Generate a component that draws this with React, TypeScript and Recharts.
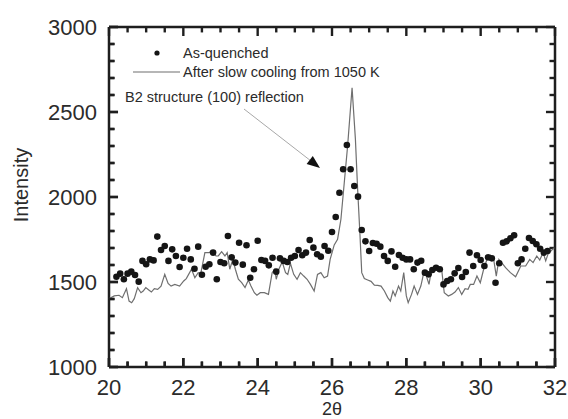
import { ScatterChart, Scatter, XAxis, YAxis, ReferenceLine } from "recharts";

const quenchedX = [
  20.2, 20.3, 20.4, 20.5, 20.6, 20.7, 20.8, 20.9, 21.0, 21.1,
  21.2, 21.3, 21.4, 21.5, 21.6, 21.7, 21.8, 21.9, 22.0, 22.1,
  22.2, 22.3, 22.4, 22.5, 22.6, 22.7, 22.8, 22.9, 23.0, 23.1,
  23.2, 23.3, 23.4, 23.5, 23.6, 23.7, 23.8, 23.9, 24.0, 24.1,
  24.2, 24.3, 24.4, 24.5, 24.6, 24.7, 24.8, 24.9, 25.0, 25.1,
  25.2, 25.3, 25.4, 25.5, 25.6, 25.7, 25.8, 25.9, 26.0, 26.1,
  26.2, 26.3, 26.4, 26.5, 26.6, 26.7, 26.8, 26.9, 27.0, 27.1,
  27.2, 27.3, 27.4, 27.5, 27.6, 27.7, 27.8, 27.9, 28.0, 28.1,
  28.2, 28.3, 28.4, 28.5, 28.6, 28.7, 28.8, 28.9, 29.0, 29.1,
  29.2, 29.3, 29.4, 29.5, 29.6, 29.7, 29.8, 29.9, 30.0, 30.1,
  30.2, 30.3, 30.4, 30.5, 30.6, 30.7, 30.8, 30.9, 31.0, 31.1,
  31.2, 31.3, 31.4, 31.5, 31.6, 31.7, 31.8,
];
const quenchedY = [
  1531, 1549, 1516, 1549, 1561, 1541, 1502, 1624, 1604, 1633,
  1627, 1767, 1688, 1712, 1624, 1692, 1653, 1588, 1643, 1696,
  1633, 1578, 1708, 1543, 1590, 1604, 1673, 1516, 1618, 1610,
  1771, 1645, 1614, 1731, 1602, 1716, 1525, 1575, 1743, 1629,
  1624, 1598, 1643, 1561, 1639, 1624, 1618, 1643, 1653, 1688,
  1657, 1673, 1747, 1702, 1663, 1649, 1712, 1684, 1794, 1882,
  2025, 2163, 2306, 2163, 2065, 2002, 1806, 1739, 1682, 1729,
  1725, 1708, 1653, 1624, 1680, 1590, 1659, 1643, 1633, 1633,
  1575, 1614, 1625, 1555, 1545, 1571, 1584, 1575, 1486, 1506,
  1516, 1551, 1582, 1529, 1559, 1673, 1594, 1657, 1629, 1594,
  1645, 1639, 1496, 1610, 1731, 1739, 1757, 1775, 1610, 1633,
  1696, 1759, 1741, 1722, 1696, 1673, 1682,
];

const cooledX = [
  20.0, 20.14, 20.27, 20.36, 20.47, 20.54, 20.61, 20.68, 20.77, 20.86,
  20.92, 20.99, 21.07, 21.14, 21.22, 21.31, 21.4, 21.5, 21.59, 21.67,
  21.77, 21.9, 22.01, 22.08, 22.22, 22.31, 22.4, 22.47, 22.58, 22.69,
  22.78, 22.88, 22.94, 23.03, 23.12, 23.18, 23.25, 23.33, 23.4, 23.48,
  23.57, 23.66, 23.75, 23.82, 23.91, 23.98, 24.07, 24.18, 24.29, 24.39,
  24.46, 24.5, 24.57, 24.66, 24.75, 24.81, 24.88, 24.97, 25.06, 25.15,
  25.24, 25.33, 25.42, 25.52, 25.61, 25.7, 25.79, 25.88, 25.95, 26.06,
  26.15, 26.24, 26.33, 26.42, 26.54, 26.63, 26.69, 26.75, 26.8, 26.87,
  26.96, 27.05, 27.14, 27.23, 27.32, 27.41, 27.5, 27.57, 27.64, 27.7,
  27.79, 27.85, 27.93, 28.0, 28.05, 28.14, 28.21, 28.3, 28.39, 28.47,
  28.54, 28.61, 28.68, 28.77, 28.86, 28.95, 29.02, 29.13, 29.22, 29.31,
  29.4, 29.49, 29.58, 29.66, 29.72, 29.81, 29.9, 29.99, 30.08, 30.17,
  30.26, 30.35, 30.42, 30.49, 30.58, 30.67, 30.8, 30.94, 31.08, 31.21,
  31.32, 31.41, 31.51, 31.59, 31.68, 31.75, 31.83, 31.89, 31.98,
];
const cooledY = [
  1402, 1418, 1422, 1408, 1461, 1388, 1378, 1402, 1467, 1437,
  1447, 1467, 1453, 1441, 1461, 1457, 1476, 1545, 1492, 1476,
  1486, 1476, 1506, 1520, 1575, 1525, 1555, 1551, 1673, 1673,
  1682, 1653, 1653, 1678, 1653, 1673, 1575, 1633, 1575, 1516,
  1496, 1467, 1512, 1476, 1437, 1422, 1437, 1437, 1427, 1555,
  1575, 1516, 1575, 1618, 1555, 1545, 1610, 1545, 1516, 1555,
  1535, 1516, 1486, 1447, 1545, 1555, 1525, 1535, 1633, 1718,
  1751, 1869, 2084, 2300, 2643, 2339, 2045, 1790, 1555, 1520,
  1512, 1504, 1482, 1480, 1476, 1447, 1408, 1388, 1447, 1418,
  1476, 1447, 1555, 1418, 1378, 1427, 1476, 1427, 1476, 1555,
  1535, 1486, 1575, 1594, 1565, 1575, 1437, 1418, 1427, 1441,
  1467, 1427, 1461, 1457, 1486, 1486, 1535, 1496, 1575, 1633,
  1657, 1633, 1535, 1633, 1610, 1584, 1555, 1531, 1594, 1594,
  1633, 1614, 1653, 1629, 1673, 1624, 1676, 1682, 1702,
];

const xTicks = [
  20, 20.5, 21, 21.5, 22, 22.5, 23, 23.5, 24, 24.5, 25, 25.5, 26,
  26.5, 27, 27.5, 28, 28.5, 29, 29.5, 30, 30.5, 31, 31.5, 32,
];
const xMajor = [20, 22, 24, 26, 28, 30, 32];
const yTicks = [
  1000, 1100, 1200, 1300, 1400, 1500, 1600, 1700, 1800, 1900, 2000,
  2100, 2200, 2300, 2400, 2500, 2600, 2700, 2800, 2900, 3000,
];
const yMajor = [1000, 1500, 2000, 2500, 3000];

const quenched = quenchedX.map((x, i) => ({ x, y: quenchedY[i] }));
const cooled = cooledX.map((x, i) => ({ x, y: cooledY[i] }));

const FONT = '"Liberation Sans", Arial, sans-serif';
const AXIS = "#1e1e1e";
const TEXT = "#2b2b2b";
// default tickSize (6) + tickMargin (2): how far recharts moves the tick anchor off the axis
const OFF = 8;
const MAJOR_PX = 9;
const MINOR_PX = 5.5;

// the same inward tick lengths, in axis units
const TICK_Y = { major: 53, minor: 32 };
const TICK_X = { major: 0.243, minor: 0.148 };

const XLabel = (props: any) => {
  const v = props.payload.value;
  const major = xMajor.includes(v);
  const y = props.y - OFF;
  return (
    <g>
      <line x1={props.x} x2={props.x} y1={y} y2={y - (major ? MAJOR_PX : MINOR_PX)} stroke={AXIS} strokeWidth={2.4} />
      {major && (
        <text x={props.x} y={y + 28} textAnchor="middle" fontSize={22} fontFamily={FONT} fill={TEXT}>
          {v}
        </text>
      )}
    </g>
  );
};

const YLabel = (props: any) => {
  const v = props.payload.value;
  const major = yMajor.includes(v);
  const x = props.x + OFF;
  return (
    <g>
      <line x1={x} x2={x + (major ? MAJOR_PX : MINOR_PX)} y1={props.y} y2={props.y} stroke={AXIS} strokeWidth={2.4} />
      {major && (
        <text x={x - 12} y={props.y + 8} textAnchor="end" fontSize={22} fontFamily={FONT} fill={TEXT}>
          {v}
        </text>
      )}
    </g>
  );
};

const Dot = (props: any) => <circle cx={props.cx} cy={props.cy} r={3.3} fill="#151515" />;
const NoDot = () => <g />;
const axisLine = { stroke: AXIS, strokeWidth: 2.5 };

export default function App() {
  return (
    <div style={{ position: "absolute", left: 0, top: 0, width: 568, height: 419, background: "#fff" }}>
      {/* labels, legend and annotation sit underneath the chart svg */}
      <svg
        width={568}
        height={419}
        style={{ position: "absolute", left: 0, top: 0, pointerEvents: "none" }}
        fontFamily={FONT}
      >
        <circle cx={157} cy={53} r={2.6} fill="#151515" />
        <text x={183} y={58} fontSize={14.5} fill={TEXT}>As-quenched</text>
        <line x1={133} x2={180} y1={72} y2={72} stroke="#6f6f6f" strokeWidth={1.2} />
        <text x={183} y={77} fontSize={14.5} fill={TEXT}>After slow cooling from 1050 K</text>
        <text x={125} y={102} fontSize={14.5} fill={TEXT}>B2 structure (100) reflection</text>
        <line x1={244} y1={109} x2={311} y2={161} stroke="#a8a8a8" strokeWidth={1} />
        <polygon points="320,168 306.6,164 312.8,156" fill="#111" />
        <text
          transform="translate(28,185) rotate(-90)"
          textAnchor="middle"
          fontSize={20}
          fill={TEXT}
        >
          Intensity
        </text>
        <text x={332} y={415} textAnchor="middle" fontSize={18} fill={TEXT}>
          2θ
        </text>
      </svg>
      <div style={{ position: "absolute", left: 0, top: 0 }}>
        <ScatterChart width={568} height={419} margin={{ top: 27, right: 13, bottom: 0, left: 0 }}>
          <XAxis
            type="number"
            dataKey="x"
            domain={[20, 32]}
            ticks={xTicks}
            interval={0}
            height={52}
            tickLine={false}
            axisLine={axisLine}
            tick={XLabel}
          />
          <YAxis
            type="number"
            dataKey="y"
            domain={[1000, 3000]}
            ticks={yTicks}
            interval={0}
            width={109}
            tickLine={false}
            axisLine={axisLine}
            tick={YLabel}
          />
          <ReferenceLine y={3000} stroke={AXIS} strokeWidth={2.5} />
          <ReferenceLine x={32} stroke={AXIS} strokeWidth={2.5} />
          {xTicks.map((t) => {
            const d = xMajor.includes(t) ? TICK_Y.major : TICK_Y.minor;
            return [
              <ReferenceLine
                key={`xb${t}`}
                segment={[{ x: t, y: 1000 }, { x: t, y: 1000 + d }]}
                stroke={AXIS}
                strokeWidth={2.4}
              />,
              <ReferenceLine
                key={`xt${t}`}
                segment={[{ x: t, y: 3000 }, { x: t, y: 3000 - d }]}
                stroke={AXIS}
                strokeWidth={2.4}
              />,
            ];
          })}
          {yTicks.map((t) => {
            const d = yMajor.includes(t) ? TICK_X.major : TICK_X.minor;
            return [
              <ReferenceLine
                key={`yl${t}`}
                segment={[{ x: 20, y: t }, { x: 20 + d, y: t }]}
                stroke={AXIS}
                strokeWidth={2.4}
              />,
              <ReferenceLine
                key={`yr${t}`}
                segment={[{ x: 32, y: t }, { x: 32 - d, y: t }]}
                stroke={AXIS}
                strokeWidth={2.4}
              />,
            ];
          })}
          <Scatter
            data={cooled}
            line={{ stroke: "#6f6f6f", strokeWidth: 1.2 }}
            shape={NoDot}
            isAnimationActive={false}
          />
          <Scatter data={quenched} shape={Dot} isAnimationActive={false} />
        </ScatterChart>
      </div>
    </div>
  );
}
